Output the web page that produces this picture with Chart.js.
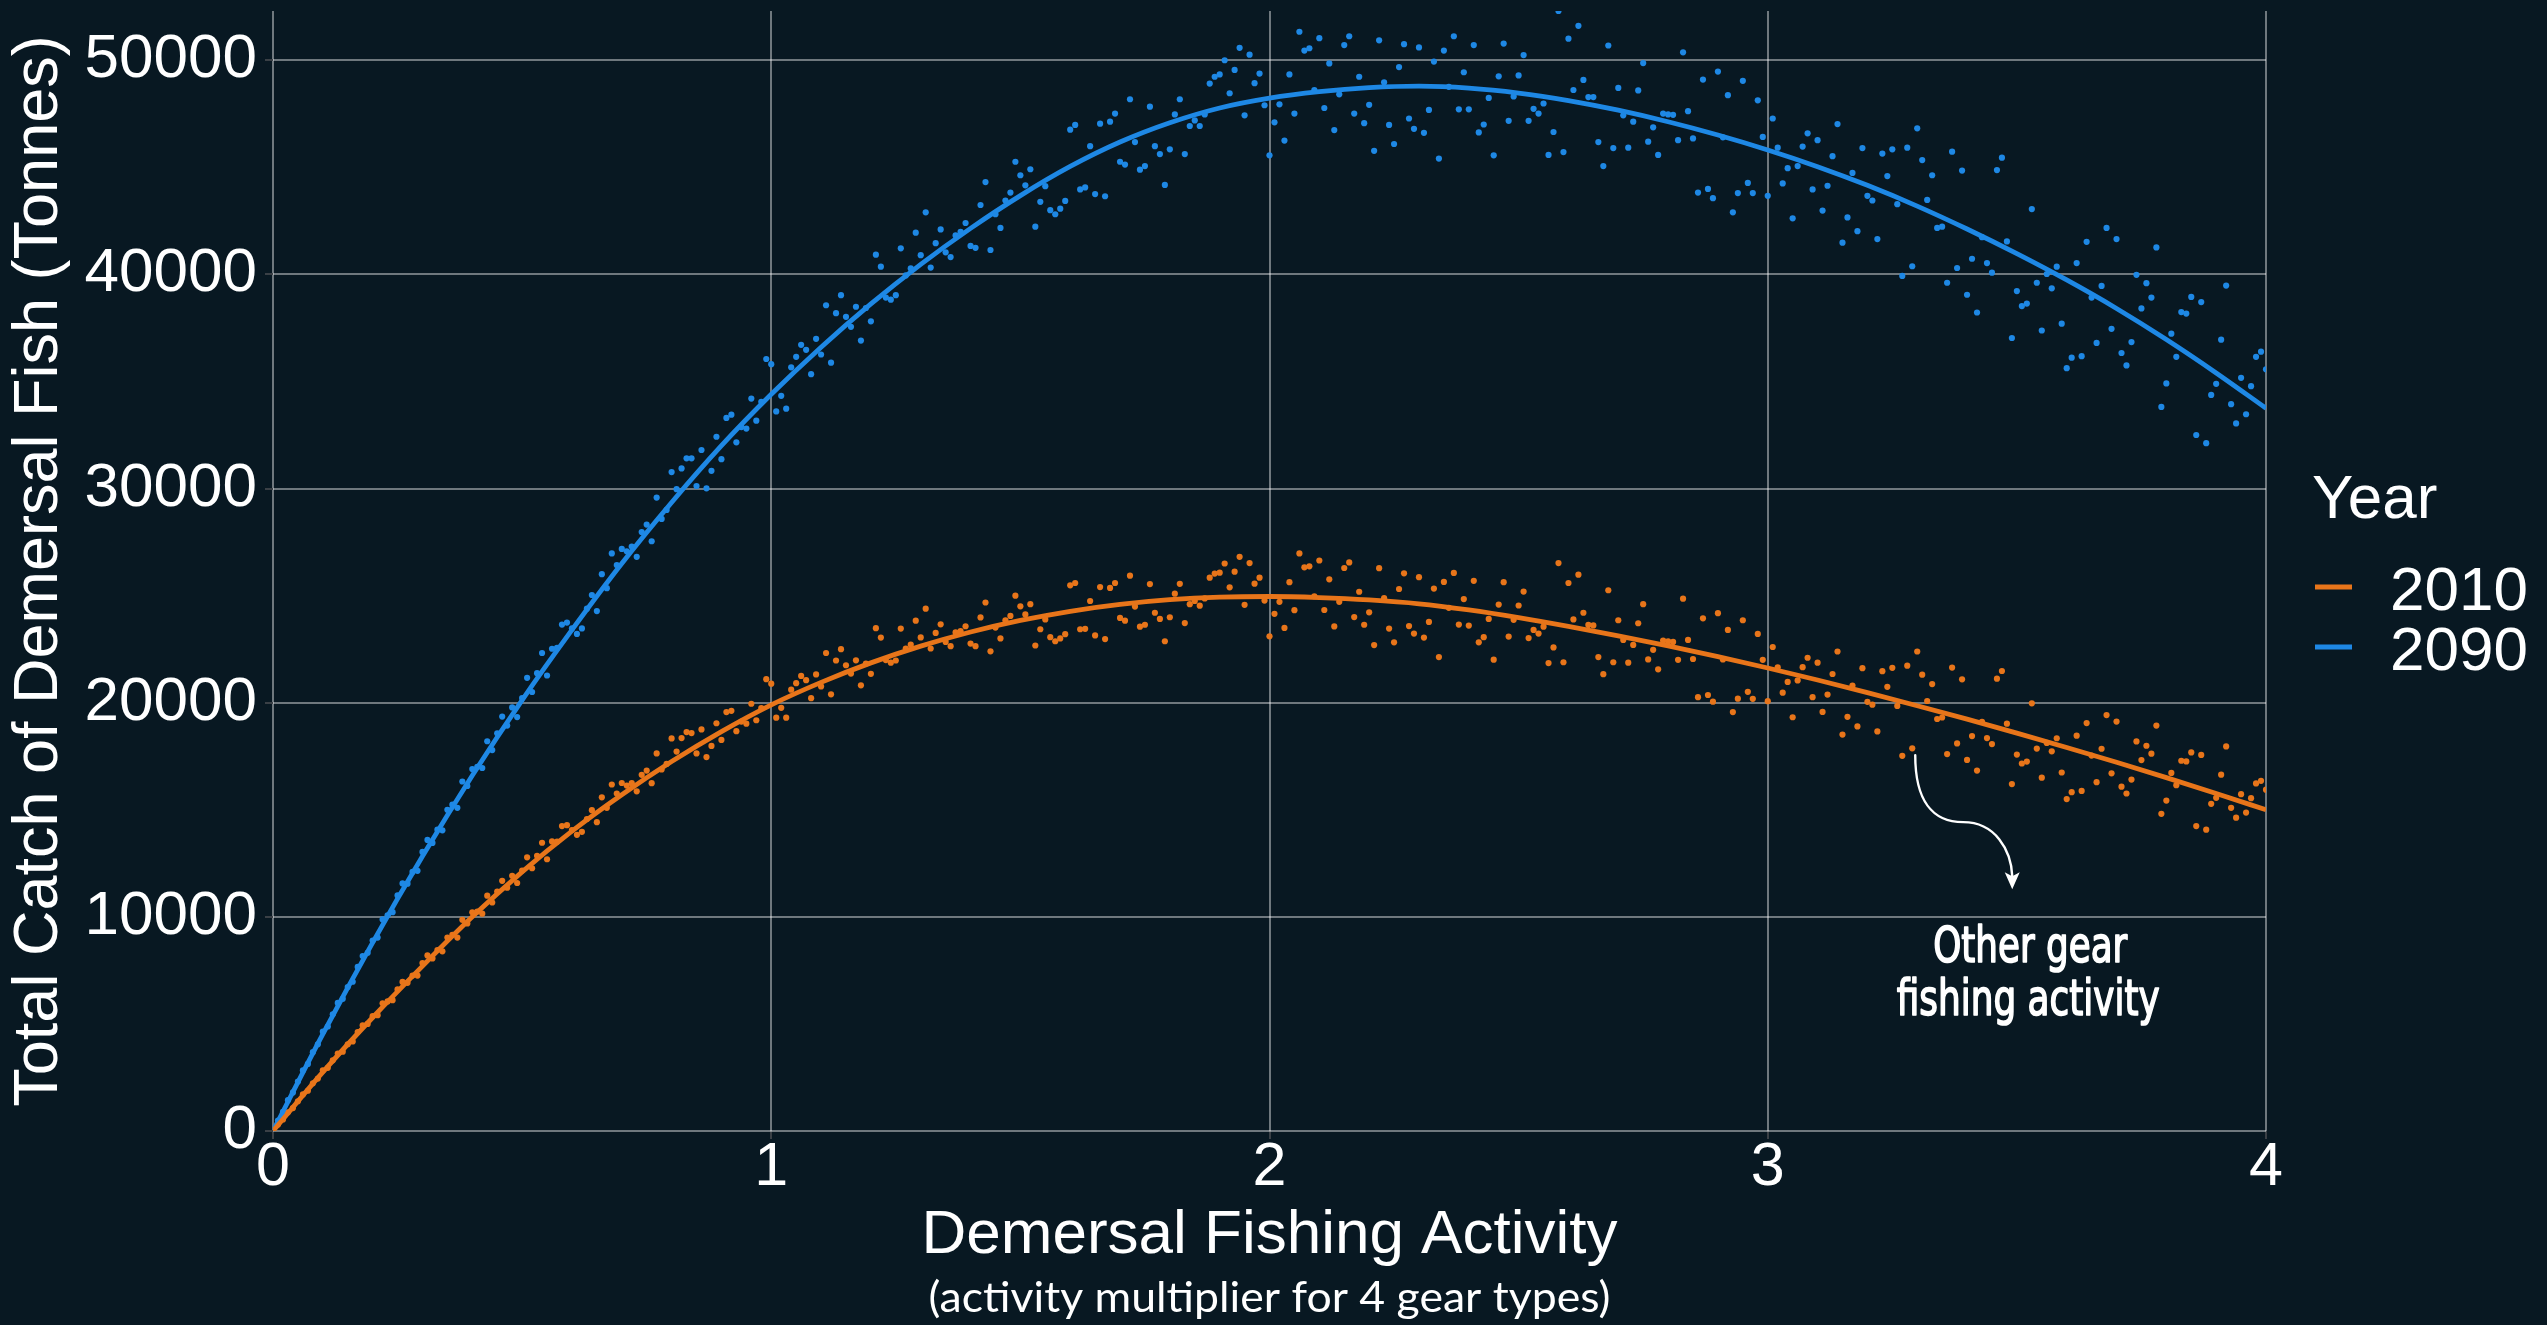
<!DOCTYPE html>
<html>
<head>
<meta charset="utf-8">
<script src="https://cdn.jsdelivr.net/npm/chart.js@4.4.1/dist/chart.umd.min.js"></script>
<style>
html,body{margin:0;padding:0;background:#081822;}
canvas{display:block;}
</style>
</head>
<body>
<canvas id="chart" width="2547" height="1325"></canvas>
<script>
// ---------- DATA ----------
const years = ['2010', '2090'];

const activity = [
0.01,0.02,0.03,0.04,0.05,0.06,0.07,0.08,0.09,0.10,
0.11,0.12,0.13,0.14,0.15,0.16,0.17,0.18,0.19,0.20,
0.21,0.22,0.23,0.24,0.25,0.26,0.27,0.28,0.29,0.30,
0.31,0.32,0.33,0.34,0.35,0.36,0.37,0.38,0.39,0.40,
0.41,0.42,0.43,0.44,0.45,0.46,0.47,0.48,0.49,0.50,
0.51,0.52,0.53,0.54,0.55,0.56,0.57,0.58,0.59,0.60,
0.61,0.62,0.63,0.64,0.65,0.66,0.67,0.68,0.69,0.70,
0.71,0.72,0.73,0.74,0.75,0.76,0.77,0.78,0.79,0.80,
0.81,0.82,0.83,0.84,0.85,0.86,0.87,0.88,0.89,0.90,
0.91,0.92,0.93,0.94,0.95,0.96,0.97,0.98,0.99,1.00,
1.01,1.02,1.03,1.04,1.05,1.06,1.07,1.08,1.09,1.10,
1.11,1.12,1.13,1.14,1.15,1.16,1.17,1.18,1.19,1.20,
1.21,1.22,1.23,1.24,1.25,1.26,1.27,1.28,1.29,1.30,
1.31,1.32,1.33,1.34,1.35,1.36,1.37,1.38,1.39,1.40,
1.41,1.42,1.43,1.44,1.45,1.46,1.47,1.48,1.49,1.50,
1.51,1.52,1.53,1.54,1.55,1.56,1.57,1.58,1.59,1.60,
1.61,1.62,1.63,1.64,1.65,1.66,1.67,1.68,1.69,1.70,
1.71,1.72,1.73,1.74,1.75,1.76,1.77,1.78,1.79,1.80,
1.81,1.82,1.83,1.84,1.85,1.86,1.87,1.88,1.89,1.90,
1.91,1.92,1.93,1.94,1.95,1.96,1.97,1.98,1.99,2.00,
2.01,2.02,2.03,2.04,2.05,2.06,2.07,2.08,2.09,2.10,
2.11,2.12,2.13,2.14,2.15,2.16,2.17,2.18,2.19,2.20,
2.21,2.22,2.23,2.24,2.25,2.26,2.27,2.28,2.29,2.30,
2.31,2.32,2.33,2.34,2.35,2.36,2.37,2.38,2.39,2.40,
2.41,2.42,2.43,2.44,2.45,2.46,2.47,2.48,2.49,2.50,
2.51,2.52,2.53,2.54,2.55,2.56,2.57,2.58,2.59,2.60,
2.61,2.62,2.63,2.64,2.65,2.66,2.67,2.68,2.69,2.70,
2.71,2.72,2.73,2.74,2.75,2.76,2.77,2.78,2.79,2.80,
2.81,2.82,2.83,2.84,2.85,2.86,2.87,2.88,2.89,2.90,
2.91,2.92,2.93,2.94,2.95,2.96,2.97,2.98,2.99,3.00,
3.01,3.02,3.03,3.04,3.05,3.06,3.07,3.08,3.09,3.10,
3.11,3.12,3.13,3.14,3.15,3.16,3.17,3.18,3.19,3.20,
3.21,3.22,3.23,3.24,3.25,3.26,3.27,3.28,3.29,3.30,
3.31,3.32,3.33,3.34,3.35,3.36,3.37,3.38,3.39,3.40,
3.41,3.42,3.43,3.44,3.45,3.46,3.47,3.48,3.49,3.50,
3.51,3.52,3.53,3.54,3.55,3.56,3.57,3.58,3.59,3.60,
3.61,3.62,3.63,3.64,3.65,3.66,3.67,3.68,3.69,3.70,
3.71,3.72,3.73,3.74,3.75,3.76,3.77,3.78,3.79,3.80,
3.81,3.82,3.83,3.84,3.85,3.86,3.87,3.88,3.89,3.90,
3.91,3.92,3.93,3.94,3.95,3.96,3.97,3.98,3.99,4.00
];

const catch2010 = [
300,540,870,1070,1390,1710,1880,2230,2450,2830,
2950,3300,3620,3700,4050,4180,4620,4930,5000,5360,
5410,5960,6050,6110,6610,6960,6920,7260,7260,7840,
8200,8060,8450,8390,9030,9160,9030,9860,9690,10210,
10250,10150,10990,10670,11180,11680,11360,11920,11580,12160,
12780,12270,12850,13460,12690,13520,13510,14240,14280,14050,
13830,13970,14570,14980,14420,15580,15090,16180,15760,16250,
16130,16240,15860,16630,16830,16240,17630,16880,17140,18330,
17720,18350,18630,18580,17630,18750,17460,17980,19040,18260,
19560,19620,18670,19120,19020,19950,19180,19750,21100,20890,
19300,19760,19300,20610,20910,21250,21050,20210,21320,20760,
22320,20390,21970,22500,21750,21360,21980,20810,21830,21350,
23480,23040,21990,21870,21970,23460,22530,22710,23830,23050,
24390,22530,23260,23660,22840,22640,23280,23340,23570,22760,
22640,23980,24680,22400,23510,23000,23850,24050,25000,24500,
24120,24600,22670,23430,23890,23060,22870,23000,23200,25480,
25590,23430,23450,24750,23140,25400,22970,25360,25590,23960,
23830,25930,24490,23550,23640,25540,24200,23910,22870,23990,
25090,25550,23720,24600,24750,24530,24870,25840,26030,26070,
26500,25390,26120,26810,24570,26520,25560,25840,24770,23100,
24150,24710,23490,25630,24320,26970,26320,26370,24970,26640,
24330,25760,23560,24710,26290,26550,24000,25180,23640,24220,
22690,26280,24880,23460,22820,25310,26040,23580,23230,25860,
23040,23770,25330,22130,25640,24430,26060,23650,24840,23600,
25690,22820,23060,23910,22010,24580,25630,23090,23870,24540,
25190,23020,23400,23230,23550,21850,22580,26520,21890,25590,
23890,25980,24200,23630,23610,22130,21330,25250,21890,23850,
22930,21870,22700,23710,24600,22020,22470,21560,22900,22860,
22840,22000,24860,22930,22040,20260,23940,20360,20050,24180,
22020,23400,19560,20190,23850,20510,20180,23210,22000,20070,
22600,21650,20470,20970,19320,21040,21660,22100,20260,21870,
19570,20380,21340,22390,18510,19340,20800,18890,21610,20040,
19910,18660,21470,20740,21630,19850,17520,21730,17870,22390,
21310,20080,20870,19240,19310,17600,21640,18100,21090,17330,
18440,16830,19110,18350,18070,21120,21480,19020,16200,17580,
17160,17250,19970,17860,16500,18120,17730,18340,16740,15500,
15820,18460,15880,19050,17530,16290,17850,19420,16700,19120,
16080,15760,16410,18190,17320,17990,17620,18930,14810,15430,
16720,16150,17290,17260,17680,14240,17560,14070,15280,15560,
16640,17960,15090,14630,15730,14870,15540,16230,16350,15940
];

const catch2090 = [
490,900,1440,1800,2310,2830,3130,3680,4050,4640,
4880,5450,5980,6170,6720,6970,7660,8170,8320,8890,
9030,9880,10070,10220,11000,11560,11550,12100,12150,13030,
13590,13450,14070,14040,15000,15240,15090,16320,16110,16900,
17010,16950,18200,17790,18570,19350,18930,19780,19330,20220,
21160,20500,21380,22320,21270,22520,22560,23650,23740,23470,
23210,23470,24390,25030,24280,26000,25350,26970,26430,27180,
27070,27290,26810,27970,28320,27540,29580,28580,29000,30770,
29970,30940,31410,31410,30120,31800,30010,30830,32420,31370,
33300,33450,32160,32870,32800,34200,33170,34050,36050,35810,
33600,34330,33730,35660,36150,36710,36480,35340,36990,36260,
38560,35880,38190,39030,38020,37550,38490,36910,38430,37810,
40920,40360,38920,38820,39030,41220,39950,40280,41950,40900,
42900,40320,41460,42100,41030,40810,41820,41990,42400,41330,
41240,43240,44310,41140,42810,42170,43450,43820,45260,44630,
44160,44910,42230,43390,44120,43000,42810,43070,43430,46760,
46980,43970,44060,45990,43750,47040,43650,47130,47510,45260,
45130,48180,46180,44890,45060,47830,45990,45620,44180,45840,
47470,48180,45620,46930,47190,46930,47470,48910,49230,49340,
50000,48460,49550,50580,47430,50260,48930,49380,47900,45560,
47100,47940,46250,49340,47510,51330,50450,50560,48610,51030,
47770,49850,46740,48410,50710,51120,47510,49230,47060,47920,
45770,50930,48970,46980,46090,49680,50750,47280,46800,50600,
46610,47680,49940,45410,50450,48760,51120,47710,49440,47710,
50710,46630,47000,48240,45560,49250,50780,47170,48310,49290,
50240,47170,47730,47510,47980,45580,46650,52300,45710,51010,
48610,51610,49080,48280,48280,46180,45060,50690,45900,48710,
47430,45920,47130,48590,49870,46200,46870,45580,47510,47470,
47450,46270,50370,47620,46350,43820,49100,43990,43560,49470,
46400,48370,42900,43800,49040,44270,43800,48130,46420,43670,
47280,45920,44250,44960,42620,45060,45970,46590,43970,46270,
42980,44140,45520,47020,41480,42660,44740,42020,45900,43670,
43450,41650,45640,44590,45840,43280,39930,45920,40380,46820,
45340,43480,44630,42170,42230,39610,45730,40300,44850,39050,
40730,38220,41740,40530,40080,44870,45450,41540,37030,39220,
38520,38640,43050,39610,37380,40020,39350,40360,37700,35620,
36110,40530,36180,41520,38920,36800,39460,42170,37460,41650,
36330,35750,36840,39980,38410,39590,38920,41260,33810,34910,
37230,36150,38240,38170,38950,32500,38710,32120,34370,34890,
36950,39480,33940,33040,35170,33470,34780,36150,36390,35570
];

// fitted curves
const fitActivity = [0,0.1,0.2,0.3,0.4,0.5,0.6,0.7,0.8,0.9,1.0,1.1,1.2,1.3,1.4,1.5,1.6,1.7,1.8,1.9,2.0,
  2.1,2.2,2.3,2.4,2.5,2.6,2.7,2.8,2.9,3.0,3.1,3.2,3.3,3.4,3.5,3.6,3.7,3.8,3.9,4.0];
const fit2010 = [0,2750,5300,7700,10000,12100,14000,15700,17250,18650,19900,20950,21860,22640,23300,23840,24270,24590,24810,24930,24960,
  24910,24800,24620,24330,23970,23560,23120,22650,22150,21620,21060,20470,19860,19230,18580,17910,17220,16500,15760,15000];
const fit2090 = [0,4525,8800,12825,16600,20125,23400,26500,29350,32000,34400,36600,38620,40470,42150,43680,45040,46180,47080,47770,48230,
  48530,48720,48790,48700,48470,48120,47670,47130,46510,45810,45030,44160,43190,42120,40970,39740,38410,36960,35400,33750];

const xTickValues = [0, 1, 2, 3, 4];
const yTickValues = [0, 10000, 20000, 30000, 40000, 50000];

const xTitle = 'Demersal Fishing Activity';
const xSubtitle = '(activity multiplier for 4 gear types)';
const yTitle = 'Total Catch of Demersal Fish (Tonnes)';
const legendTitle = 'Year';
const noteLines = ['Other gear', 'fishing activity'];
const noteAnchor = {x: 3.296, y: 17550};

// ---------- STYLE ----------
const BG = '#081822';
const COLORS = {'2010': '#E8751A', '2090': '#1E88E5'};
const FONT = '"Liberation Sans", Arial, Helvetica, sans-serif';
const GRID = 'rgba(255,255,255,0.42)';

Chart.defaults.font.family = FONT;
Chart.defaults.color = '#ffffff';

function toPoints(xs, ys){ return xs.map((x, i) => ({x: x, y: ys[i]})); }

const seriesY = {'2010': catch2010, '2090': catch2090};
const fitY = {'2010': fit2010, '2090': fit2090};

const datasets = [];
years.forEach(yr => {
  datasets.push({
    label: yr + ' fit', data: toPoints(fitActivity, fitY[yr]),
    showLine: true, borderColor: COLORS[yr], backgroundColor: COLORS[yr],
    borderWidth: 4.8, pointRadius: 0, cubicInterpolationMode: 'monotone', order: 0
  });
  datasets.push({
    label: yr, data: toPoints(activity, seriesY[yr]),
    showLine: false, backgroundColor: COLORS[yr], borderWidth: 0,
    pointRadius: 3.1, pointHoverRadius: 3.1, order: 1
  });
});

function fitText(ctx, text, x, y, font, width, strokeW){
  ctx.save();
  ctx.font = font;
  const w = ctx.measureText(text).width;
  ctx.translate(x, y);
  ctx.scale(width / w, 1);
  ctx.textAlign = 'center';
  ctx.textBaseline = 'alphabetic';
  ctx.fillStyle = '#ffffff';
  ctx.fillText(text, 0, 0);
  if (strokeW) { ctx.strokeStyle = '#ffffff'; ctx.lineWidth = strokeW; ctx.lineJoin = 'round'; ctx.strokeText(text, 0, 0); }
  ctx.restore();
}

const bgPlugin = {
  id: 'bg',
  beforeDraw(chart){
    const c = chart.ctx; c.save(); c.fillStyle = BG; c.fillRect(0, 0, chart.width, chart.height); c.restore();
  }
};

const decoPlugin = {
  id: 'deco',
  afterDraw(chart){
    const ctx = chart.ctx, ca = chart.chartArea;
    const cx = (ca.left + ca.right) / 2, cy = (ca.top + ca.bottom) / 2;

    // x subtitle
    fitText(ctx, xSubtitle, cx, chart.height - 13, '42px Lato, "Open Sans", sans-serif', 682);

    // legend
    ctx.save();
    ctx.fillStyle = '#ffffff';
    ctx.font = '62px ' + FONT;
    ctx.textAlign = 'left';
    ctx.textBaseline = 'alphabetic';
    ctx.fillText(legendTitle, ca.right + 46, cy - 53);
    years.forEach((yr, i) => {
      const ly = cy + 16 + 60 * i;
      ctx.strokeStyle = COLORS[yr];
      ctx.lineWidth = 5;
      ctx.beginPath(); ctx.moveTo(ca.right + 49, ly); ctx.lineTo(ca.right + 86, ly); ctx.stroke();
      ctx.fillText(yr, ca.right + 124, cy + 39 + 60 * i);
    });
    ctx.restore();

    // annotation arrow
    const ax = chart.scales.x.getPixelForValue(noteAnchor.x);
    const ay = chart.scales.y.getPixelForValue(noteAnchor.y);
    ctx.save();
    ctx.strokeStyle = '#ffffff'; ctx.fillStyle = '#ffffff';
    ctx.lineWidth = 2.4; ctx.lineCap = 'round';
    ctx.beginPath();
    ctx.moveTo(ax, ay);
    ctx.bezierCurveTo(ax, ay + 45, ax + 17, ay + 67, ax + 48, ay + 67);
    ctx.bezierCurveTo(ax + 80, ay + 67, ax + 96, ay + 95, ax + 97, ay + 121);
    ctx.stroke();
    ctx.beginPath();
    ctx.moveTo(ax + 97, ay + 134);
    ctx.lineTo(ax + 89.5, ay + 117);
    ctx.lineTo(ax + 97, ay + 121);
    ctx.lineTo(ax + 104.5, ay + 117);
    ctx.closePath();
    ctx.fill();
    ctx.restore();

    // annotation text
    const noteFont = '50px "Liberation Sans Narrow", "DejaVu Sans Condensed", ' + FONT;
    fitText(ctx, noteLines[0], ax + 115, ay + 207, noteFont, 194, 1.6);
    fitText(ctx, noteLines[1], ax + 113, ay + 260, noteFont, 263, 1.6);
  }
};

new Chart(document.getElementById('chart'), {
  type: 'scatter',
  data: { datasets: datasets },
  options: {
    responsive: false,
    animation: false,
    devicePixelRatio: 1,
    layout: { padding: { top: 11, right: 281, bottom: 0, left: 0 } },
    plugins: { legend: { display: false }, tooltip: { enabled: false } },
    events: [],
    scales: {
      x: {
        type: 'linear', min: 0, max: 4,
        afterBuildTicks(s){ s.ticks = xTickValues.map(v => ({value: v})); },
        afterFit(s){ s.height = 194; s.paddingLeft = 0; s.paddingRight = 0; },
        ticks: { color: '#ffffff', font: { size: 61, lineHeight: 0.9 }, padding: 2, maxRotation: 0,
                 callback: v => String(v) },
        grid: { color: GRID, lineWidth: 2, tickColor: '#3a4046', tickLength: 8, drawTicks: true },
        border: { display: false },
        title: { display: true, text: xTitle, color: '#ffffff', font: { size: 62 }, padding: { top: 0, bottom: 52 } }
      },
      y: {
        type: 'linear', min: 0, max: 52300,
        afterBuildTicks(s){ s.ticks = yTickValues.map(v => ({value: v})); },
        afterFit(s){ s.width = 273; s.paddingTop = 0; s.paddingBottom = 0; },
        ticks: { color: '#ffffff', font: { size: 62 }, padding: 8, callback: v => String(v) },
        grid: { color: GRID, lineWidth: 2, tickColor: '#3a4046', tickLength: 8, drawTicks: true },
        border: { display: false },
        title: { display: true, text: yTitle, color: '#ffffff', font: { size: 63 }, padding: { top: 2, bottom: 0 } }
      }
    }
  },
  plugins: [bgPlugin, decoPlugin]
});
</script>
</body>
</html>
